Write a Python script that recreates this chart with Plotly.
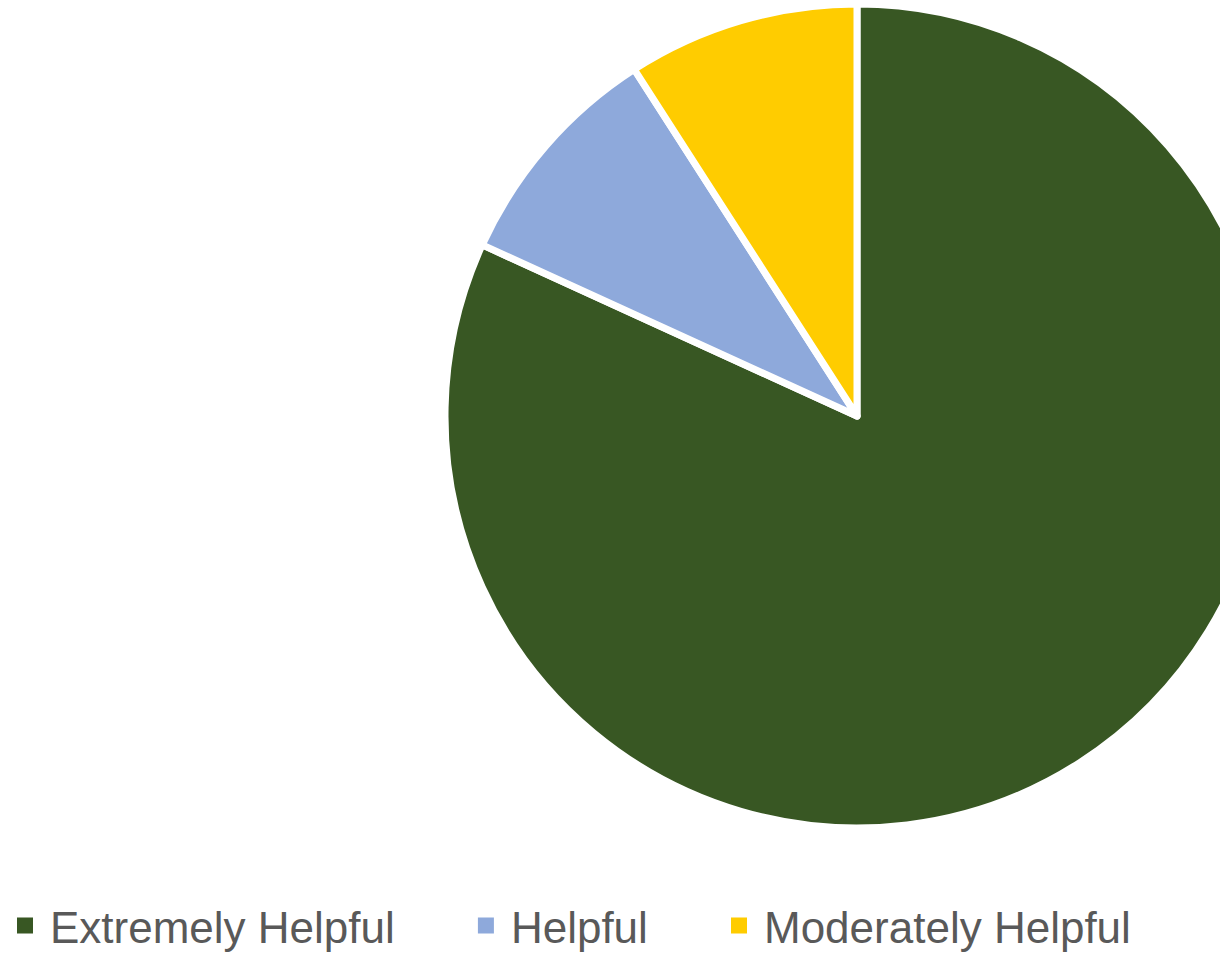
import plotly.graph_objects as go

categories = ["Extremely Helpful", "Helpful", "Moderately Helpful"]
values = [9, 1, 1]
colors = ["#385723", "#8EA9DB", "#FFCC00"]

W, H = 1320, 953
PAD = "\u00a0" * 5

fig = go.Figure()
fig.add_trace(
    go.Pie(
        labels=categories,
        values=values,
        marker=dict(colors=colors, line=dict(color="white", width=7)),
        sort=False,
        direction="clockwise",
        rotation=0,
        textinfo="none",
        showlegend=False,
        hovertemplate="%{label}: %{value}<extra></extra>",
        domain=dict(x=[445 / W, 1269 / W], y=[(H - 828) / H, (H - 4) / H]),
    )
)

# legend entries with larger square keys, matching the pie slices
for cat, col in zip(categories, colors):
    fig.add_trace(
        go.Scatter(
            x=[None],
            y=[None],
            mode="markers",
            marker=dict(symbol="square", size=18, color=col),
            name=cat + PAD,
            hoverinfo="skip",
        )
    )

fig.update_layout(
    width=W,
    height=H,
    margin=dict(l=0, r=0, t=0, b=0, autoexpand=False),
    paper_bgcolor="white",
    plot_bgcolor="white",
    xaxis=dict(visible=False),
    yaxis=dict(visible=False),
    showlegend=True,
    legend=dict(
        orientation="h",
        x=0,
        xanchor="left",
        y=(H - 926) / H,
        yanchor="middle",
        itemwidth=40,
        font=dict(family="Liberation Sans, Arial, sans-serif", size=44, color="#595959"),
        bgcolor="rgba(0,0,0,0)",
    ),
)

fig.write_html(
    "out.html",
    config={"displayModeBar": False},
    post_script="document.body.style.margin='0';document.body.style.overflow='hidden';document.documentElement.style.overflow='hidden';",
)
